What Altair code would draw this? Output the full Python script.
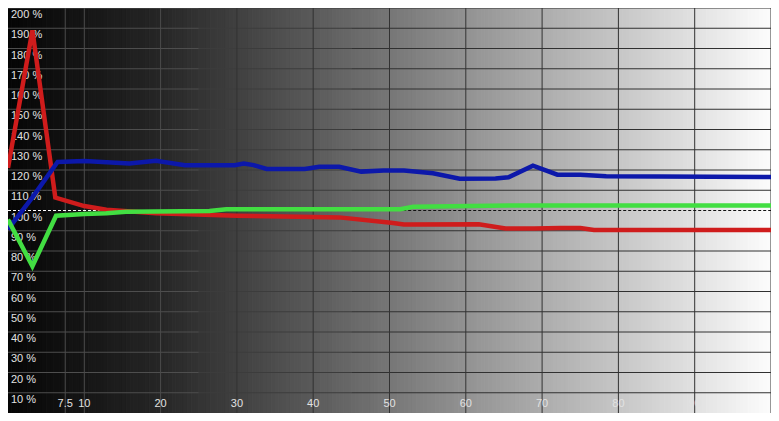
import altair as alt
import pandas as pd

# ---- data ----
red_x = [0, 3.2, 6.2, 10, 12.9, 19.4, 30, 40, 43.4, 50.2, 51.9, 61.7, 65.2, 69, 72.4, 75, 76.8, 100]
red_y = [121, 189, 106.4, 102.2, 100.4, 98.7, 97.4, 96.8, 96.6, 93.9, 93.1, 93.2, 91.1, 91.1, 91.4, 91.3, 90.4, 90.4]

green_x = [0, 3.2, 6.3, 10, 12.9, 15.5, 26.4, 28.6, 51.4, 53.1, 65.6, 100]
green_y = [95.5, 72.5, 97.4, 98.3, 98.7, 99.4, 99.8, 100.6, 100.6, 101.8, 102.5, 102.5]

blue_x = [0, 3.2, 6.5, 10, 15.9, 19.4, 23.2, 29.7, 30.9, 32.2, 33.9, 38.9, 40.8, 43.4, 46.3, 49.2, 51.9, 55.7, 59.2, 63.9, 65.6, 68.8, 72, 75, 78.4, 100]
blue_y = [90.7, 106.5, 124, 124.5, 123.2, 124.6, 122.4, 122.4, 123.2, 122.4, 120.5, 120.5, 121.6, 121.6, 119.2, 119.7, 119.7, 118.4, 115.7, 115.8, 116.4, 122.1, 117.7, 117.7, 116.9, 116.5]

y_ticks = [10, 20, 30, 40, 50, 60, 70, 80, 90, 100, 110, 120, 130, 140, 150, 160, 170, 180, 190, 200]
x_ticks = [7.5, 10, 20, 30, 40, 50, 60, 70, 80, 90]
x_tick_labels = ["7.5", "10", "20", "30", "40", "50", "60", "70", "80", "90"]
grid_x = [7.5, 10, 20, 30, 40, 50, 60, 70, 80, 90, 100]
grid_y = [10, 20, 30, 40, 50, 60, 70, 80, 90, 110, 120, 130, 140, 150, 160, 170, 180, 190, 200]
target = 100

# background stimulus ramp: band edges (0 .. 100 %)
ramp_edges = [i * 0.5 for i in range(201)]

W, H = 763, 405

xs = alt.Scale(domain=[0, 100], nice=False, zero=False)
ys = alt.Scale(domain=[0, 200], nice=False, zero=False)

series = pd.concat([
    pd.DataFrame({"x": red_x, "y": red_y, "s": "red"}),
    pd.DataFrame({"x": blue_x, "y": blue_y, "s": "blue"}),
    pd.DataFrame({"x": green_x, "y": green_y, "s": "green"}),
])

ramp = pd.DataFrame({"x0": ramp_edges[:-1], "x1": ramp_edges[1:]})
ramp["m"] = (ramp["x0"] + ramp["x1"]) / 2
ramp["y0"] = 0
ramp["y1"] = 200

gray_scale = alt.Scale(
    domain=[0, 20, 40, 50, 60, 80, 100],
    range=["#050505", "#262626", "#5a5a5a", "#767676", "#929292", "#c6c6c6", "#fcfcfc"],
    interpolate="rgb")

bg = alt.Chart(ramp).mark_rect(strokeWidth=1, clip=True).encode(
    x=alt.X("x0:Q", scale=xs, axis=None), x2="x1:Q",
    y=alt.Y("y0:Q", scale=ys, axis=None), y2="y1:Q",
    fill=alt.Fill("m:Q", legend=None, scale=gray_scale),
    stroke=alt.Stroke("m:Q", legend=None, scale=gray_scale),
)

# horizontal grid lines, split where they change tone
seg_edges = [0, 25, 45, 100]
hg = pd.DataFrame([
    {"v": v, "x0": seg_edges[i], "x1": seg_edges[i + 1], "seg": i}
    for v in grid_y for i in range(len(seg_edges) - 1)
])
hgrid_parts = []
for i, col in enumerate(["#4e4e4e", "#3c3c3c", "#303030"]):
    hgrid_parts.append(
        alt.Chart(hg).transform_filter(f"datum.seg == {i}").mark_rule(strokeWidth=1, color=col, clip=True).encode(
            y=alt.Y("v:Q", scale=ys, axis=None),
            x=alt.X("x0:Q", scale=xs, axis=None), x2="x1:Q")
    )

gx = alt.Chart(pd.DataFrame({"v": grid_x}))
vgrid_l = gx.transform_filter("datum.v < 25").mark_rule(strokeWidth=1, color="#4c4c4c", clip=True).encode(
    x=alt.X("v:Q", scale=xs, axis=None))
vgrid_d = gx.transform_filter("datum.v > 25").mark_rule(strokeWidth=1, color="#323232", clip=True).encode(
    x=alt.X("v:Q", scale=xs, axis=None))

refdf = pd.DataFrame({"x0": [0, 40], "x1": [40, 100], "v": [target, target], "k": [0, 1]})
ref_light = alt.Chart(refdf).transform_filter("datum.k == 0").mark_rule(
    strokeDash=[3, 2], strokeWidth=1, color="#ffffff", clip=True).encode(
    x=alt.X("x0:Q", scale=xs, axis=None), x2="x1:Q", y=alt.Y("v:Q", scale=ys, axis=None))
ref_dark = alt.Chart(refdf).transform_filter("datum.k == 1").mark_rule(
    strokeDash=[3, 2], strokeWidth=1, color="#111111", clip=True).encode(
    x=alt.X("x0:Q", scale=xs, axis=None), x2="x1:Q", y=alt.Y("v:Q", scale=ys, axis=None))

ydf = pd.DataFrame({"v": y_ticks, "t": [f"{v} %" for v in y_ticks]})
ylab = alt.Chart(ydf).mark_text(
    align="left", baseline="middle", dy=7, fontSize=11, font="Liberation Sans", color="#e2e2e2"
).encode(x=alt.value(3), y=alt.Y("v:Q", scale=ys, axis=None), text="t:N")

xdf = pd.DataFrame({"v": x_ticks, "t": x_tick_labels, "yy": [4.3] * len(x_ticks)})
xlab = alt.Chart(xdf).mark_text(
    align="center", baseline="middle", fontSize=11, font="Liberation Sans", color="#e2e2e2"
).encode(x=alt.X("v:Q", scale=xs, axis=None), y=alt.Y("yy:Q", scale=ys, axis=None), text="t:N")

lines = alt.Chart(series).mark_line(strokeWidth=4.5, strokeJoin="miter", strokeCap="butt", clip=True).encode(
    x=alt.X("x:Q", scale=xs, axis=None),
    y=alt.Y("y:Q", scale=ys, axis=None),
    color=alt.Color("s:N", legend=None, scale=alt.Scale(
        domain=["red", "blue", "green"], range=["#cf1c1c", "#0c18aa", "#42de42"])),
)

chart = alt.layer(bg, *hgrid_parts, vgrid_l, vgrid_d, ref_light, ref_dark, ylab, xlab, lines).resolve_scale(
    color="independent", fill="independent", stroke="independent"
).properties(
    width=W, height=H, padding=0
).configure_view(stroke=None)

chart.save("out.html", embed_options={"renderer": "svg", "actions": False})
